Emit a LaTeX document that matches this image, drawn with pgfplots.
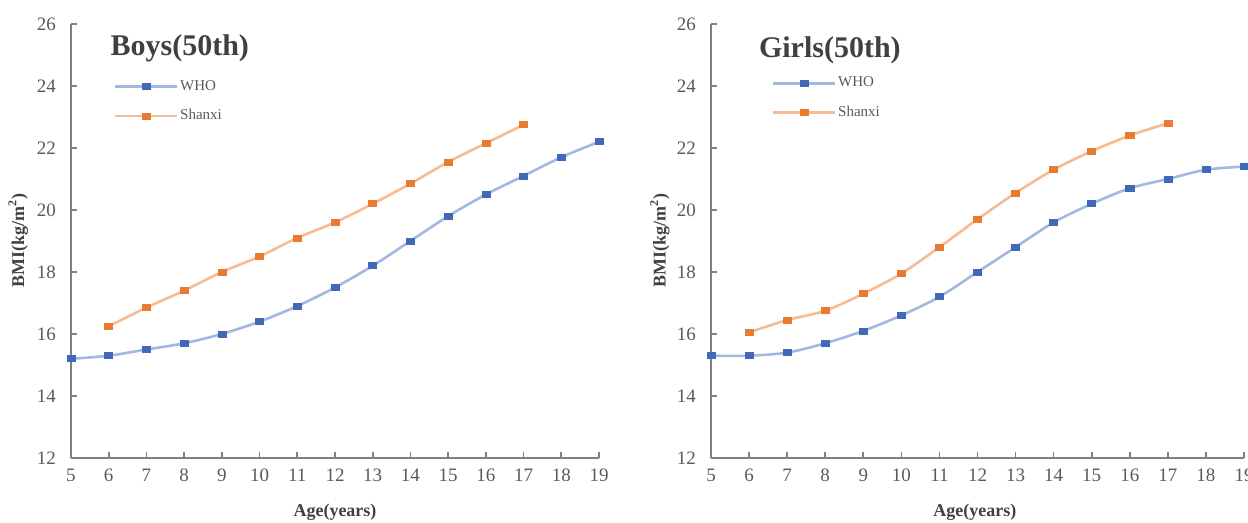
\documentclass[border=0pt]{standalone}
\usepackage{pgfplots}
\pgfplotsset{compat=1.18}
\usepackage{fontspec}
\setmainfont{Liberation Serif}
\definecolor{whoL}{HTML}{A3B8E0}
\definecolor{whoM}{HTML}{4169B8}
\definecolor{shL}{HTML}{F6BB92}
\definecolor{shM}{HTML}{E97B30}
\definecolor{axg}{HTML}{808080}
\definecolor{txt}{HTML}{595959}
\definecolor{ttl}{HTML}{404040}
\pgfplotsset{
  bmistyle/.style={
    scale only axis, height=217pt, anchor=south west,
    xmin=5, xmax=19, ymin=12, ymax=26,
    xtick={5,...,19}, ytick={12,14,...,26},
    axis x line*=bottom, axis y line*=left,
    axis line style={axg, line width=1pt, -},
    tick style={axg, line width=0.8pt},
    tick align=inside, major tick length=3pt,
    /pgf/number format/assume math mode=true,
    tick label style={font=\fontsize{9.5}{11}\selectfont, text=txt},
    xticklabel style={yshift=-2pt},
    yticklabel style={xshift=-4pt},
    label style={font=\fontsize{9}{11}\selectfont\bfseries, text=ttl},
    xlabel={Age(years)},
    ylabel={BMI(kg/m\textsuperscript{2})},
    xlabel style={at={(axis description cs:0.5,0)}, anchor=center, yshift=-27pt},
    legend style={draw=none, fill=none, anchor=north west,
      font=\fontsize{7.5}{9}\selectfont, text=txt, row sep=6pt, inner sep=0pt,
      nodes={inner sep=1pt}},
    legend cell align=left,
    legend image code/.code={\draw[mark repeat=2,mark phase=2,##1] plot coordinates {(0pt,0pt) (15.5pt,0pt) (31pt,0pt)};},
    whoplot/.style={whoL, line width=1.3pt, smooth, mark=square*, mark size=1.5pt,
      mark options={fill=whoM, draw=whoM, xscale=1.35, line width=0.3pt}},
    shplot/.style={shL, line width=1.3pt, smooth, mark=square*, mark size=1.5pt,
      mark options={fill=shM, draw=shM, xscale=1.35, line width=0.3pt}},
  }
}
\begin{document}
\begin{tikzpicture}
\path[use as bounding box] (0,0) rectangle (624pt,261.5pt);
\begin{axis}[bmistyle, width=264pt, at={(35.5pt,32.5pt)},
  ylabel style={at={(axis description cs:-0.1,0.5)}, anchor=center},
  legend style={at={(0.08,0.876)}}]
\addplot[whoplot] coordinates {(5,15.2)(6,15.3)(7,15.5)(8,15.7)(9,16.0)(10,16.4)(11,16.9)(12,17.5)(13,18.2)(14,19.0)(15,19.8)(16,20.5)(17,21.1)(18,21.7)(19,22.2)};
\addlegendentry{WHO}
\addplot[shplot] coordinates {(6,16.25)(7,16.85)(8,17.4)(9,18.0)(10,18.5)(11,19.1)(12,19.6)(13,20.2)(14,20.85)(15,21.55)(16,22.15)(17,22.75)};
\addlegendentry{Shanxi}
\node[font=\fontsize{15}{18}\selectfont\bfseries, text=ttl] at (rel axis cs:0.206,0.943) {Boys(50th)};
\end{axis}
\begin{axis}[bmistyle, width=266.5pt, at={(355.5pt,32.5pt)},
  ylabel style={at={(axis description cs:-0.096,0.5)}, anchor=center},
  xlabel style={at={(axis description cs:0.495,0)}},
  legend style={at={(0.113,0.884)}}]
\addplot[whoplot] coordinates {(5,15.3)(6,15.3)(7,15.4)(8,15.7)(9,16.1)(10,16.6)(11,17.2)(12,18.0)(13,18.8)(14,19.6)(15,20.2)(16,20.7)(17,21.0)(18,21.3)(19,21.4)};
\addlegendentry{WHO}
\addplot[shplot] coordinates {(6,16.05)(7,16.45)(8,16.75)(9,17.3)(10,17.95)(11,18.8)(12,19.7)(13,20.55)(14,21.3)(15,21.9)(16,22.4)(17,22.8)};
\addlegendentry{Shanxi}
\node[font=\fontsize{15}{18}\selectfont\bfseries, text=ttl] at (rel axis cs:0.223,0.94) {Girls(50th)};
\end{axis}
\end{tikzpicture}
\end{document}
